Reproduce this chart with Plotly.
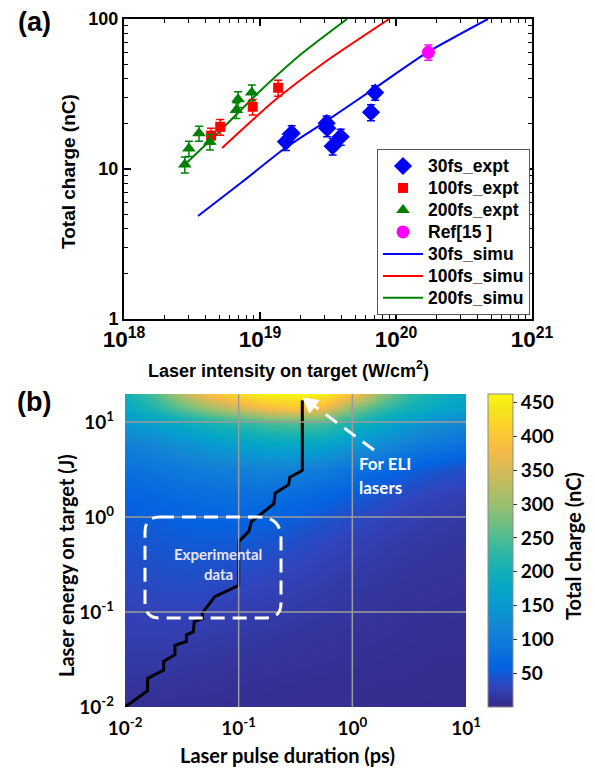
import plotly.graph_objects as go

# page has an 8px body margin; figure sized so that it fills the 595x773 window
OFF = 8
W, H = 595 - OFF, 773 - OFF
def px(x): return (x - OFF) / W
def py(y): return 1 - (y - OFF) / H

# ---------------- Panel (a) data ----------------
i30 = [1.55e19, 1.71e19, 3.09e19, 3.12e19, 3.42e19, 3.92e19, 6.55e19, 7.02e19]
q30 = [15.2, 17.3, 20.2, 18.7, 14.2, 16.4, 23.9, 32.3]
e30 = [1.9, 2.1, 2.4, 2.3, 1.8, 2.0, 2.9, 3.6]

i100 = [4.37e18, 5.1e18, 8.84e18, 1.36e19]
q100 = [16.7, 19.1, 26.0, 34.8]
e100 = [2.0, 2.3, 3.1, 4.2]

i200 = [2.8e18, 3.0e18, 3.56e18, 4.28e18, 6.7e18, 6.9e18, 8.7e18]
q200 = [10.7, 13.7, 17.3, 15.2, 24.7, 29.2, 32.4]
e200 = [1.3, 1.6, 2.0, 1.8, 3.0, 3.5, 3.9]

iref = [1.73e20]
qref = [60.0]
eref = [7.0]

sim30_i = [3.50e18, 7.38e18, 1.53e19, 3.01e19, 7.02e19, 1.72e20, 4.74e20]
sim30_q = [4.86, 8.19, 13.8, 20.6, 34.7, 60.3, 100.0]
sim100_i = [5.26e18, 1.29e19, 3.01e19, 8.9e19]
sim100_q = [13.8, 28.8, 51.7, 100.0]
sim200_i = [2.67e18, 4.91e18, 9.18e18, 1.97e19, 4.37e19]
sim200_q = [10.3, 17.4, 30.7, 57.5, 100.0]

# ---------------- Panel (b) data ----------------
tau_grid = [0.01, 0.0178, 0.0316, 0.0562, 0.1, 0.178, 0.316, 0.562, 1.0, 1.78, 3.16, 5.62, 10.0]
energy_grid = [0.01, 0.0178, 0.0316, 0.0562, 0.1, 0.178, 0.316, 0.562, 1.0, 1.78, 3.16, 5.62, 10.0, 14.1, 19.7]
charge = [
    [8, 8, 7, 7, 6, 6, 5, 5, 5, 4, 4, 4, 4],
    [13, 12, 11, 10, 9, 8, 7, 6, 6, 5, 5, 4, 4],
    [18, 18, 16, 14, 12, 11, 10, 9, 8, 7, 6, 5, 5],
    [23, 23, 22, 20, 17, 15, 13, 11, 10, 9, 8, 7, 6],
    [28, 29, 29, 27, 24, 21, 18, 15, 13, 11, 9, 8, 7],
    [33, 35, 36, 35, 32, 28, 24, 20, 16, 13, 11, 10, 9],
    [39, 41, 43, 43, 41, 36, 31, 26, 21, 17, 14, 12, 11],
    [45, 47, 50, 51, 50, 46, 40, 33, 27, 22, 18, 15, 13],
    [52, 55, 59, 62, 62, 59, 54, 46, 37, 30, 24, 20, 17],
    [63, 67, 73, 77, 80, 79, 75, 67, 55, 44, 35, 29, 25],
    [80, 87, 95, 103, 108, 111, 108, 100, 83, 68, 55, 45, 38],
    [105, 115, 130, 145, 158, 168, 172, 166, 142, 122, 102, 88, 78],
    [150, 165, 188, 210, 228, 248, 258, 245, 212, 180, 152, 132, 118],
    [180, 212, 260, 305, 345, 385, 400, 375, 290, 235, 200, 178, 165],
    [200, 245, 320, 390, 432, 455, 462, 452, 395, 295, 230, 197, 180],
]

tau_line = [0.01, 0.0158, 0.0158, 0.0219, 0.0219, 0.0275, 0.0275, 0.0347, 0.0347, 0.0398,
            0.0407, 0.0479, 0.0479, 0.0617, 0.1, 0.1, 0.123, 0.129, 0.204, 0.209,
            0.275, 0.282, 0.363, 0.363]
energy_line = [0.01, 0.0148, 0.020, 0.0245, 0.0302, 0.0355, 0.0447, 0.0490, 0.0575, 0.0617,
               0.0794, 0.0851, 0.0977, 0.145, 0.191, 0.550, 0.708, 0.891, 1.38, 1.78,
               2.19, 2.63, 3.09, 17.0]

cbar_ticks = [50, 100, 150, 200, 250, 300, 350, 400, 450]

parula_rgb = [
    (0.2081, 0.1663, 0.5292), (0.1959, 0.2645, 0.7279), (0.0117, 0.3875, 0.8820),
    (0.0498, 0.4586, 0.8641), (0.0793, 0.5200, 0.8312), (0.0343, 0.5966, 0.8199),
    (0.0228, 0.6535, 0.7768), (0.0843, 0.6928, 0.7062), (0.2178, 0.7250, 0.6193),
    (0.3953, 0.7459, 0.5244), (0.5709, 0.7485, 0.4494), (0.7184, 0.7411, 0.3905),
    (0.8507, 0.7299, 0.3360), (0.9739, 0.7314, 0.2666), (0.9880, 0.8066, 0.1794),
    (0.9589, 0.8949, 0.1132), (0.9763, 0.9831, 0.0538)]
pos = [0, 4, 8, 12, 16, 20, 24, 28, 32, 36, 40, 44, 48, 52, 56, 60, 63]
parula = [[p / 63, 'rgb(%d,%d,%d)' % tuple(round(c * 255) for c in rgb)] for p, rgb in zip(pos, parula_rgb)]

ARIAL = 'Liberation Sans, Arial, sans-serif'
CAL = 'Lato, Carlito, Calibri, sans-serif'

def lg(t):
    return '<span style="font-size:17.5px">%s</span>' % t

fig = go.Figure()

# simulation lines
for xs, ys, col, nm, rk in [(sim30_i, sim30_q, '#0000ff', '30fs_simu', 5),
                            (sim100_i, sim100_q, '#ff0000', '100fs_simu', 6),
                            (sim200_i, sim200_q, '#008000', '200fs_simu', 7)]:
    fig.add_trace(go.Scatter(x=xs, y=ys, mode='lines', name=lg(nm), legendrank=rk,
                             line=dict(color=col, width=2, shape='spline', smoothing=0.6),
                             xaxis='x', yaxis='y'))

# experiments
for xs, ys, es, col, sym, sz, nm, rk in [
        (i30, q30, e30, '#0000ff', 'diamond', 14, '30fs_expt', 1),
        (i100, q100, e100, '#ff0000', 'square', 10, '100fs_expt', 2),
        (i200, q200, e200, '#008000', 'triangle-up', 12, '200fs_expt', 3),
        (iref, qref, eref, '#ff00ff', 'circle', 13, 'Ref[15 ]', 4)]:
    fig.add_trace(go.Scatter(x=xs, y=ys, mode='markers', name=lg(nm), legendrank=rk,
                             marker=dict(symbol=sym, size=sz, color=col, line=dict(width=0)),
                             error_y=dict(type='data', array=es, color=col, thickness=1.5, width=4),
                             xaxis='x', yaxis='y'))

# heatmap
fig.add_trace(go.Heatmap(
    x=tau_grid, y=energy_grid, z=charge, xaxis='x2', yaxis='y2',
    colorscale=parula, zmin=0, zmax=463, zsmooth='best', showlegend=False,
    colorbar=dict(x=px(488), xanchor='left', y=py(394), yanchor='top',
                  len=313 / H, lenmode='fraction', thickness=25, thicknessmode='pixels',
                  xpad=0, ypad=0, outlinewidth=1, outlinecolor='#8a8a8a',
                  tickmode='array', tickvals=cbar_ticks, ticks='outside', ticklen=4,
                  tickcolor='#333', tickfont=dict(family=CAL, size=19, weight='bold', color='black'))))

fig.add_trace(go.Scatter(x=tau_line, y=energy_line, mode='lines', showlegend=False,
                         line=dict(color='black', width=3), xaxis='x2', yaxis='y2'))

axis_a = dict(type='log', showline=True, linecolor='black', linewidth=2, mirror='allticks',
              ticks='inside', ticklen=7, tickwidth=1.5, tickcolor='black',
              tickmode='linear', tick0=0, dtick=1, showgrid=False, zeroline=False,
              tickfont=dict(family=ARIAL, size=18, weight='bold', color='black'),
              minor=dict(ticks='inside', ticklen=4, tickwidth=1, tickcolor='black', dtick='D1', showgrid=False))

fig.update_layout(
    width=W, height=H, margin=dict(l=0, r=0, t=0, b=0, autoexpand=False),
    paper_bgcolor='white', plot_bgcolor='white',
    xaxis=dict(axis_a, range=[18, 21], domain=[px(124), px(532)], anchor='y',
               exponentformat='power', showexponent='all'),
    yaxis=dict(axis_a, range=[0, 2], domain=[py(319), py(19)], anchor='x'),
    xaxis2=dict(type='log', range=[-2, 1], domain=[px(125), px(466)], anchor='y2',
                showgrid=False, zeroline=False, showline=False, ticks='', ticklabelstandoff=8,
                tickmode='array', tickvals=[0.01, 0.1, 1, 10],
                ticktext=['10<sup>-2</sup>', '10<sup>-1</sup>', '10<sup>0</sup>', '10<sup>1</sup>'],
                tickfont=dict(family=CAL, size=19, weight='bold', color='black')),
    yaxis2=dict(type='log', range=[-2, 1.295], domain=[py(707), py(394)], anchor='x2',
                showgrid=False, zeroline=False, showline=False, ticks='', ticklabelstandoff=10,
                tickmode='array', tickvals=[0.01, 0.1, 1, 10],
                ticktext=['10<sup>-2</sup>', '10<sup>-1</sup>', '10<sup>0</sup>', '10<sup>1</sup>'],
                tickfont=dict(family=CAL, size=19, weight='bold', color='black')),
    legend=dict(x=px(377), y=py(149), xanchor='left', yanchor='top', bgcolor='white',
                bordercolor='#555', borderwidth=1, itemwidth=40, tracegroupgap=0,
                font=dict(family=ARIAL, size=14.6, weight='bold', color='black')),
    showlegend=True,
)

# grid lines above heatmap
shapes = []
for v in [0.1, 1]:
    shapes.append(dict(type='line', xref='x2', yref='y2 domain', x0=v, x1=v, y0=0, y1=1,
                       line=dict(color='#9c9c9c', width=1.5), layer='above'))
for v in [0.1, 1, 10]:
    shapes.append(dict(type='line', xref='x2 domain', yref='y2', x0=0, x1=1, y0=v, y1=v,
                       line=dict(color='#9c9c9c', width=1.5), layer='above'))

# dashed rounded rectangle (experimental data region)
L, R, T, B, r, r2 = 145, 281, 517, 618, 15, 22
def P(x, y): return '%.5f,%.5f' % (px(x), py(y))
path = ('M ' + P(L + r, T) + ' L ' + P(R - r2, T) + ' Q ' + P(R, T) + ' ' + P(R, T + r2) +
        ' L ' + P(R, B - r) + ' Q ' + P(R, B) + ' ' + P(R - r, B) +
        ' L ' + P(L + r, B) + ' Q ' + P(L, B) + ' ' + P(L, B - r) +
        ' L ' + P(L, T + r) + ' Q ' + P(L, T) + ' ' + P(L + r, T))
shapes.append(dict(type='path', xref='paper', yref='paper', path=path,
                   line=dict(color='white', width=3, dash='14px,8px'), layer='above'))
# ELI arrow
shapes.append(dict(type='line', xref='paper', yref='paper', x0=px(374), y0=py(450), x1=px(313), y1=py(405),
                   line=dict(color='white', width=3, dash='14px,9px'), layer='above'))
shapes.append(dict(type='path', xref='paper', yref='paper',
                   path='M ' + P(303, 398) + ' L ' + P(319, 400.5) + ' L ' + P(309.5, 413) + ' Z',
                   fillcolor='white', line=dict(color='white', width=1), layer='above'))
fig.update_layout(shapes=shapes)

ann = []
def A(text, x, y, size, family, color='black', angle=0, xanchor='center'):
    ann.append(dict(text=text, x=px(x), y=py(y), xref='paper', yref='paper', showarrow=False,
                    xanchor=xanchor, yanchor='middle', textangle=angle,
                    font=dict(family=family, size=size, color=color, weight='bold')))

A('(a)', 34, 22, 27, ARIAL)
A('(b)', 34, 402, 27, ARIAL)
A('Total charge (nC)', 68, 172, 19, ARIAL, angle=-90)
A('Laser intensity on target (W/cm<sup>2</sup>)', 288, 369, 18, ARIAL)
A('Laser energy on target (J)', 66, 565, 20, CAL, angle=-90)
A('Laser pulse duration (ps)', 287, 755, 20, CAL)
A('Total charge (nC)', 573, 546, 20, CAL, angle=-90)
A('For ELI', 357, 463, 17, CAL, color='white', xanchor='left')
A('lasers', 357, 487, 17, CAL, color='white', xanchor='left')
A('Experimental', 218, 554, 15, CAL, color='#e6e6ee')
A('data', 218, 574, 15, CAL, color='#e6e6ee')
fig.update_layout(annotations=ann)

fig.write_html('out.html')
